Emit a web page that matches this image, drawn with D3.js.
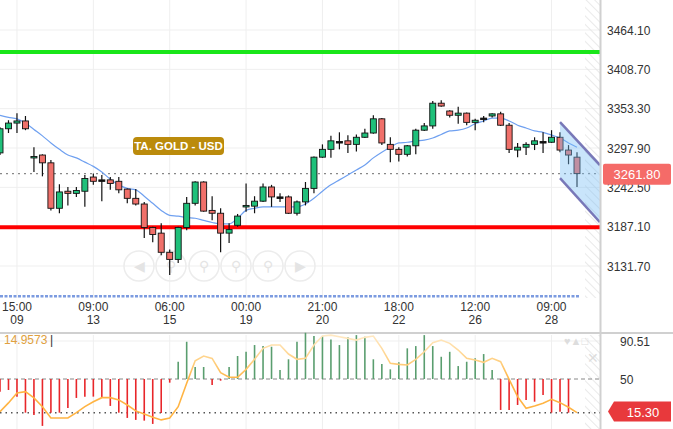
<!DOCTYPE html>
<html><head><meta charset="utf-8">
<script src="https://cdn.jsdelivr.net/npm/d3@7"></script>
<style>body{margin:0;background:#fff}svg{display:block;font-family:"Liberation Sans",Arial,sans-serif}</style>
</head><body><svg id="c" width="673" height="429"></svg>
<script>
// OHLC candles [open, high, low, close]
const candles = [
[3291,3327,3288,3325],[3325,3337,3319,3333],[3333,3347,3319,3336],[3336,3343,3323,3325],
[3284,3299,3264,3286],[3288,3289,3258,3277],[3277,3281,3210,3213],[3213,3247,3206,3236],
[3237,3243,3217,3234],[3234,3243,3229,3238],[3237,3260,3215,3255],[3257,3262,3246,3251],
[3253,3260,3223,3252],[3253,3257,3239,3248],[3251,3257,3234,3239],[3240,3241,3220,3227],
[3227,3240,3217,3219],[3219,3222,3171,3186],[3186,3187,3165,3176],[3178,3192,3147,3151],
[3151,3155,3119,3141],[3141,3187,3136,3186],[3186,3229,3182,3220],[3220,3251,3217,3250],
[3250,3251,3208,3209],[3210,3230,3196,3206],[3206,3213,3151,3178],[3178,3192,3164,3183],
[3189,3205,3187,3202],[3215,3248,3208,3217],[3216,3230,3206,3223],[3223,3248,3222,3243],
[3243,3246,3215,3229],[3229,3234,3222,3228],[3229,3231,3205,3206],[3206,3224,3203,3222],
[3222,3250,3217,3241],[3241,3286,3234,3285],[3285,3303,3284,3296],[3296,3315,3284,3308],
[3307,3320,3296,3306],[3308,3316,3291,3303],[3303,3317,3293,3313],[3313,3325,3312,3319],
[3319,3344,3318,3339],[3339,3340,3302,3305],[3303,3313,3278,3296],[3296,3299,3279,3289],
[3289,3302,3286,3301],[3301,3325,3289,3323],[3323,3333,3322,3329],[3329,3364,3325,3361],
[3361,3365,3356,3357],[3350,3351,3341,3344],[3344,3356,3332,3347],[3347,3348,3330,3334],
[3334,3339,3323,3337],[3339,3343,3334,3340],[3343,3347,3341,3346],[3346,3349,3329,3330],
[3330,3333,3291,3296],[3295,3305,3285,3299],[3299,3306,3288,3303],[3303,3313,3295,3308],
[3306,3320,3291,3307],[3306,3323,3305,3313],[3313,3320,3292,3295],[3295,3302,3275,3288],
[3285,3292,3243,3261.8]];
const maValues = [3344,3341,3339,3333,3324,3315,3305,3296,3288,3284,3278,3272,3264,3254,3246,3241,3239,3230,3220,3210,3203,3202,3200,3199,3196,3193,3191,3191,3199,3210,3213,3215,3215,3215,3215,3215,3219,3227,3237,3246,3253,3260,3267,3274,3284,3292,3299,3305,3306,3308,3309,3312,3317,3322,3323,3326,3332,3336,3340,3340,3336,3330,3326,3322,3320,3316,3312,3305,3299];
const histValues = [null,36.5,38.3,31.2,14.1,11.7,0,14.1,14.1,19.1,29.8,31.2,31.2,29.8,21.3,14.1,8.5,6.4,5.6,2.1,13.8,46.1,68.4,89.7,62.8,62.8,43.6,48.2,62.8,74.5,79.0,86.2,85.1,84.4,59.6,71.0,89.7,99.3,95.8,95.8,92.2,86.2,94.4,96.8,95.0,71.0,66.0,60.3,67.8,82.7,85.1,96.8,85.1,73.7,79.0,63.8,68.4,72.0,76.6,59.6,17.0,17.0,22.3,27.7,25.8,33.0,14.1,15.2,14.1];
const oscLine = [15.2,24.5,35.1,36.5,29.8,20.5,8.5,8.5,8.5,14.1,20.5,25.8,30.1,30.1,27.7,22.3,16.0,12.8,9.2,6.4,8.5,20.5,45.4,69.5,74.5,72.0,56.7,51.8,51.8,60.3,71.0,82.7,86.2,86.2,76.6,71.0,72.0,86.2,95.8,96.8,95.0,93.3,91.5,94.4,95.8,82.7,66.7,65.6,64.9,71.0,79.0,88.6,91.5,88.0,80.9,72.0,70.2,67.8,72.0,68.4,49.7,31.2,18.8,21.3,24.1,28.4,24.8,19.9,14.1];
const priceTicks = [3464.10,3408.70,3353.30,3297.90,3242.50,3187.10,3131.70];
const timeTicks = [{i:2,t:"15:00",d:"09"},{i:11,t:"09:00",d:"13"},{i:20,t:"06:00",d:"15"},{i:29,t:"00:00",d:"19"},{i:38,t:"21:00",d:"20"},{i:47,t:"18:00",d:"22"},{i:56,t:"12:00",d:"26"},{i:65,t:"09:00",d:"28"}];
const resistance = 3433.1, support = 3186.4, lastPrice = 3261.8, lowerBand = 3089;
const channel = {i0:66, i1:70.7, top:[3334.4,3273.8], bot:[3255.5,3193.4]};
const oscTicks = [90.51,50], oscLast = 15.30, oscDotted = 14;

const svg = d3.select("#c");
const x = d3.scaleLinear().domain([0,68]).range([0,577]);
const y = d3.scaleLinear().domain([3464.1,3131.7]).range([30,266]);
const yo = d3.scaleLinear().domain([50,90.51]).range([379,341]);
const PR = 600;

const defs = svg.append("defs");
const pat = defs.append("pattern").attr("id","hatch").attr("patternUnits","userSpaceOnUse").attr("width",6).attr("height",6).attr("patternTransform","rotate(-45)");
pat.append("line").attr("x1",0).attr("y1",0).attr("x2",0).attr("y2",6).attr("stroke","#e2e2e2").attr("stroke-width",1.5);
const lg = defs.append("linearGradient").attr("id","og").attr("gradientUnits","userSpaceOnUse").attr("x1",0).attr("y1",335).attr("x2",0).attr("y2",425);
lg.append("stop").attr("offset","0").attr("stop-color","#ffe9c4");
lg.append("stop").attr("offset","0.3").attr("stop-color","#ffcf80");
lg.append("stop").attr("offset","0.5").attr("stop-color","#ffb443");
lg.append("stop").attr("offset","1").attr("stop-color","#ffb443");
const cl = defs.append("clipPath").attr("id","main"); cl.append("rect").attr("x",0).attr("y",0).attr("width",PR).attr("height",298);

// grid
const g = svg.append("g");
g.selectAll(".hg").data(priceTicks).join("line").attr("x1",0).attr("x2",PR).attr("y1",d=>y(d)).attr("y2",d=>y(d)).attr("stroke","#efefef");
g.selectAll(".vg").data(timeTicks).join("line").attr("x1",d=>x(d.i)).attr("x2",d=>x(d.i)).attr("y1",0).attr("y2",298).attr("stroke","#efefef");
g.selectAll(".vg2").data(timeTicks).join("line").attr("x1",d=>x(d.i)).attr("x2",d=>x(d.i)).attr("y1",335).attr("y2",429).attr("stroke","#efefef");
svg.append("line").attr("x1",0).attr("x2",PR).attr("y1",yo(90.51)).attr("y2",yo(90.51)).attr("stroke","#efefef");
svg.append("rect").attr("x",585).attr("y",0).attr("width",15).attr("height",298).attr("fill","url(#hatch)");
svg.append("rect").attr("x",585).attr("y",335).attr("width",15).attr("height",94).attr("fill","url(#hatch)");

// nav buttons
const nav = svg.append("g");
[139,171,204,236,268,300].forEach((cx,k)=>{
  nav.append("circle").attr("cx",cx).attr("cy",266).attr("r",15).attr("fill","none").attr("stroke","#ececec").attr("stroke-width",1.5);
  nav.append("text").attr("x",cx).attr("y",271).attr("text-anchor","middle").attr("font-size",14).attr("fill","#e4e4e4").text(["◀","⚲","⚲","⚲","⚲","▶"][k]);
});

const m = svg.append("g").attr("clip-path","url(#main)");
// horizontal lines
m.append("line").attr("x1",0).attr("x2",PR).attr("y1",y(resistance)).attr("y2",y(resistance)).attr("stroke","#19e619").attr("stroke-width",4);
m.append("line").attr("x1",0).attr("x2",PR).attr("y1",y(support)).attr("y2",y(support)).attr("stroke","#ff0000").attr("stroke-width",4);
m.append("line").attr("x1",0).attr("x2",PR).attr("y1",y(lastPrice)).attr("y2",y(lastPrice)).attr("stroke","#888").attr("stroke-dasharray","2,4").attr("stroke-width",1.3);
m.append("line").attr("x1",0).attr("x2",580).attr("y1",y(lowerBand)).attr("y2",y(lowerBand)).attr("stroke","#7c9be0").attr("stroke-dasharray","3,1.5").attr("stroke-width",2.5);

// MA
m.append("path").datum(maValues).attr("fill","none").attr("stroke","#6fa0f0").attr("stroke-width",1.2)
 .attr("d",d3.line().x((d,i)=>x(i)).y(d=>y(d)).curve(d3.curveMonotoneX));

// candles
const cw = 6;
const cg = m.selectAll(".cd").data(candles).join("g");
cg.append("line").attr("x1",(d,i)=>x(i)).attr("x2",(d,i)=>x(i)).attr("y1",d=>y(d[1])).attr("y2",d=>y(d[2])).attr("stroke","#111").attr("stroke-width",1.2);
cg.append("rect").attr("x",(d,i)=>x(i)-cw/2).attr("width",cw)
 .attr("y",d=>y(Math.max(d[0],d[3]))).attr("height",d=>Math.max(1.5,Math.abs(y(d[0])-y(d[3]))))
 .attr("fill",d=>Math.abs(d[0]-d[3])<1.5?"#111":(d[3]>d[0]?"#1fc07a":"#f0706a")).attr("stroke","#111").attr("stroke-width",0.9);

// channel
const cx0=x(channel.i0), cx1=x(channel.i1);
m.append("path").attr("d",`M${cx0},${y(channel.top[0])}L${cx1},${y(channel.top[1])}L${cx1},${y(channel.bot[1])}L${cx0},${y(channel.bot[0])}Z`).attr("fill","rgba(120,190,245,0.4)");
m.append("line").attr("x1",cx0).attr("y1",y(channel.top[0])).attr("x2",cx1).attr("y2",y(channel.top[1])).attr("stroke","#7878b8").attr("stroke-width",2.5);
m.append("line").attr("x1",cx0).attr("y1",y(channel.bot[0])).attr("x2",cx1).attr("y2",y(channel.bot[1])).attr("stroke","#7878b8").attr("stroke-width",2.5);

// label
svg.append("rect").attr("x",133).attr("y",137).attr("width",91).attr("height",18).attr("rx",4).attr("fill","#bb8b0c");
svg.append("text").attr("x",178.5).attr("y",150).attr("text-anchor","middle").attr("font-size",11.5).attr("font-weight","bold").attr("fill","#fff").text("TA.  GOLD - USD");

// right axis
svg.append("line").attr("x1",PR+0.5).attr("x2",PR+0.5).attr("y1",0).attr("y2",333).attr("stroke","#d0d0d0").attr("stroke-width",2);
svg.selectAll(".pt").data(priceTicks).join("text").attr("x",607).attr("y",d=>y(d)+4.5).attr("font-size",12).attr("fill","#333").text(d=>d.toFixed(2));
svg.append("rect").attr("x",603).attr("y",y(lastPrice)-10).attr("width",68).attr("height",21).attr("rx",2).attr("fill","#f56b68");
svg.append("text").attr("x",637).attr("y",y(lastPrice)+5).attr("text-anchor","middle").attr("font-size",13).attr("fill","#fff").text(lastPrice.toFixed(2));

// time axis
svg.append("line").attr("x1",0).attr("x2",PR).attr("y1",333).attr("y2",333).attr("stroke","#d0d0d0").attr("stroke-width",2);
svg.append("line").attr("x1",PR).attr("x2",673).attr("y1",333).attr("y2",333).attr("stroke","#d0d0d0").attr("stroke-width",2);
const tt = svg.selectAll(".tt").data(timeTicks).join("text").attr("text-anchor","middle").attr("font-size",12).attr("fill","#333");
tt.append("tspan").attr("x",d=>x(d.i)).attr("y",311).text(d=>d.t);
tt.append("tspan").attr("x",d=>x(d.i)).attr("y",324).text(d=>d.d);

// lower panel
svg.append("line").attr("x1",PR+0.5).attr("x2",PR+0.5).attr("y1",334).attr("y2",429).attr("stroke","#d0d0d0").attr("stroke-width",2);
svg.append("line").attr("x1",0).attr("x2",PR).attr("y1",yo(50)).attr("y2",yo(50)).attr("stroke","#888").attr("stroke-dasharray","4,3");
svg.append("line").attr("x1",0).attr("x2",PR).attr("y1",yo(oscDotted)).attr("y2",yo(oscDotted)).attr("stroke","#555").attr("stroke-dasharray","1.5,4").attr("stroke-width",1.5);
svg.selectAll(".hb").data(histValues).join("line").filter(d=>d!==null)
 .attr("x1",(d,i)=>x(histValues.indexOf(d)===i?i:i)).attr("x2",(d,i)=>x(i))
 .attr("y1",yo(50)).attr("y2",d=>yo(d)).attr("stroke",d=>d>=50?"#5a9e6f":"#e8262a").attr("stroke-width",1.6);
svg.append("path").datum(oscLine).attr("fill","none").attr("stroke","url(#og)").attr("stroke-width",1.6)
 .attr("d",d3.line().x((d,i)=>x(i)).y(d=>yo(d)));
svg.append("text").attr("x",4).attr("y",344).attr("font-size",12).attr("fill","#e0a040").text("14.9573");
svg.append("text").attr("x",50).attr("y",344).attr("font-size",12).attr("fill","#333").text("|");
svg.append("text").attr("x",564).attr("y",345).attr("font-size",11).attr("fill","#ddd").text("♥▲□");
svg.append("text").attr("x",593).attr("y",363).attr("text-anchor","middle").attr("font-size",14).attr("fill","#ddd").text("✕");
svg.selectAll(".ot").data(oscTicks).join("text").attr("x",620).attr("y",d=>yo(d)+4.5).attr("font-size",12).attr("fill","#333").text(d=>d===50?"50":d.toFixed(2));
const ly = yo(oscLast);
svg.append("path").attr("d",`M608,${ly}L614,${ly-10}H671V${ly+10}H614Z`).attr("fill","#e8393c");
svg.append("text").attr("x",643).attr("y",ly+5).attr("text-anchor","middle").attr("font-size",13).attr("fill","#fff").text(oscLast.toFixed(2));
</script></body></html>
